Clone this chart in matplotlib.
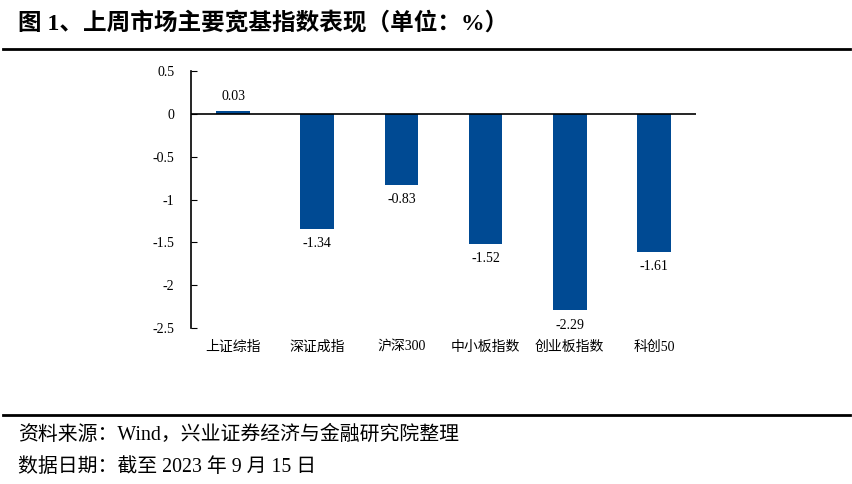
import matplotlib
matplotlib.use('Agg')
import matplotlib.pyplot as plt

# 上周市场主要宽基指数表现（单位：%）
categories = ['上证综指', '深证成指', '沪深300', '中小板指数', '创业板指数', '科创50']
values = [0.03, -1.34, -0.83, -1.52, -2.29, -1.61]
y_ticks = [0.5, 0, -0.5, -1, -1.5, -2, -2.5]
y_tick_labels = ['0.5', '0', '-0.5', '-1', '-1.5', '-2', '-2.5']

fam = ['Liberation Serif', 'Noto Sans CJK SC', 'DejaVu Sans']
plt.rcParams['font.family'] = fam

W, H = 852, 484
fig = plt.figure(figsize=(W / 100, H / 100), dpi=100)

# 标题和分隔线
fig.text(18 / W, 1 - 23 / H, '图 1、上周市场主要宽基指数表现（单位：%）',
         fontsize=17, fontweight='bold', va='center', ha='left')
fig.add_artist(plt.Line2D([3 / W, 850 / W], [1 - 49 / H, 1 - 49 / H], color='black', lw=2))
fig.add_artist(plt.Line2D([3 / W, 850 / W], [1 - 415 / H, 1 - 415 / H], color='black', lw=2))

# 来源
fig.text(18 / W, 1 - 435 / H, '资料来源：Wind，兴业证券经济与金融研究院整理',
         fontsize=14.3, va='center', ha='left')
fig.text(18 / W, 1 - 467 / H, '数据日期：截至 2023 年 9 月 15 日',
         fontsize=14.3, va='center', ha='left')

# 主图
left, right, top, bottom = 191, 696, 70.7, 328.3
ax = fig.add_axes([left / W, 1 - bottom / H, (right - left) / W, (bottom - top) / H])
x = list(range(len(categories)))
ax.bar(x, values, width=0.4, color='#004A93')
ax.axhline(0, color='black', lw=1.2)

ax.set_xlim(-0.5, len(categories) - 0.5)
ax.set_ylim(-2.5, 0.5)
ax.set_yticks(y_ticks)
ax.set_yticklabels(y_tick_labels, fontsize=10)
ax.set_xticks(x)
ax.set_xticklabels(categories, fontsize=10)
ax.tick_params(axis='x', length=0, pad=9)
ax.tick_params(axis='y', direction='in', length=4, pad=12)

for s in ['top', 'right', 'bottom']:
    ax.spines[s].set_visible(False)
ax.spines['left'].set_linewidth(1.2)

for xi, v in zip(x, values):
    if v >= 0:
        ax.annotate(f'{v:.2f}', (xi, v), xytext=(0, 6), textcoords='offset points',
                    ha='center', va='bottom', fontsize=10)
    else:
        ax.annotate(f'{v:.2f}', (xi, v), xytext=(0, -6), textcoords='offset points',
                    ha='center', va='top', fontsize=10)

fig.savefig('out.png', dpi=100)
